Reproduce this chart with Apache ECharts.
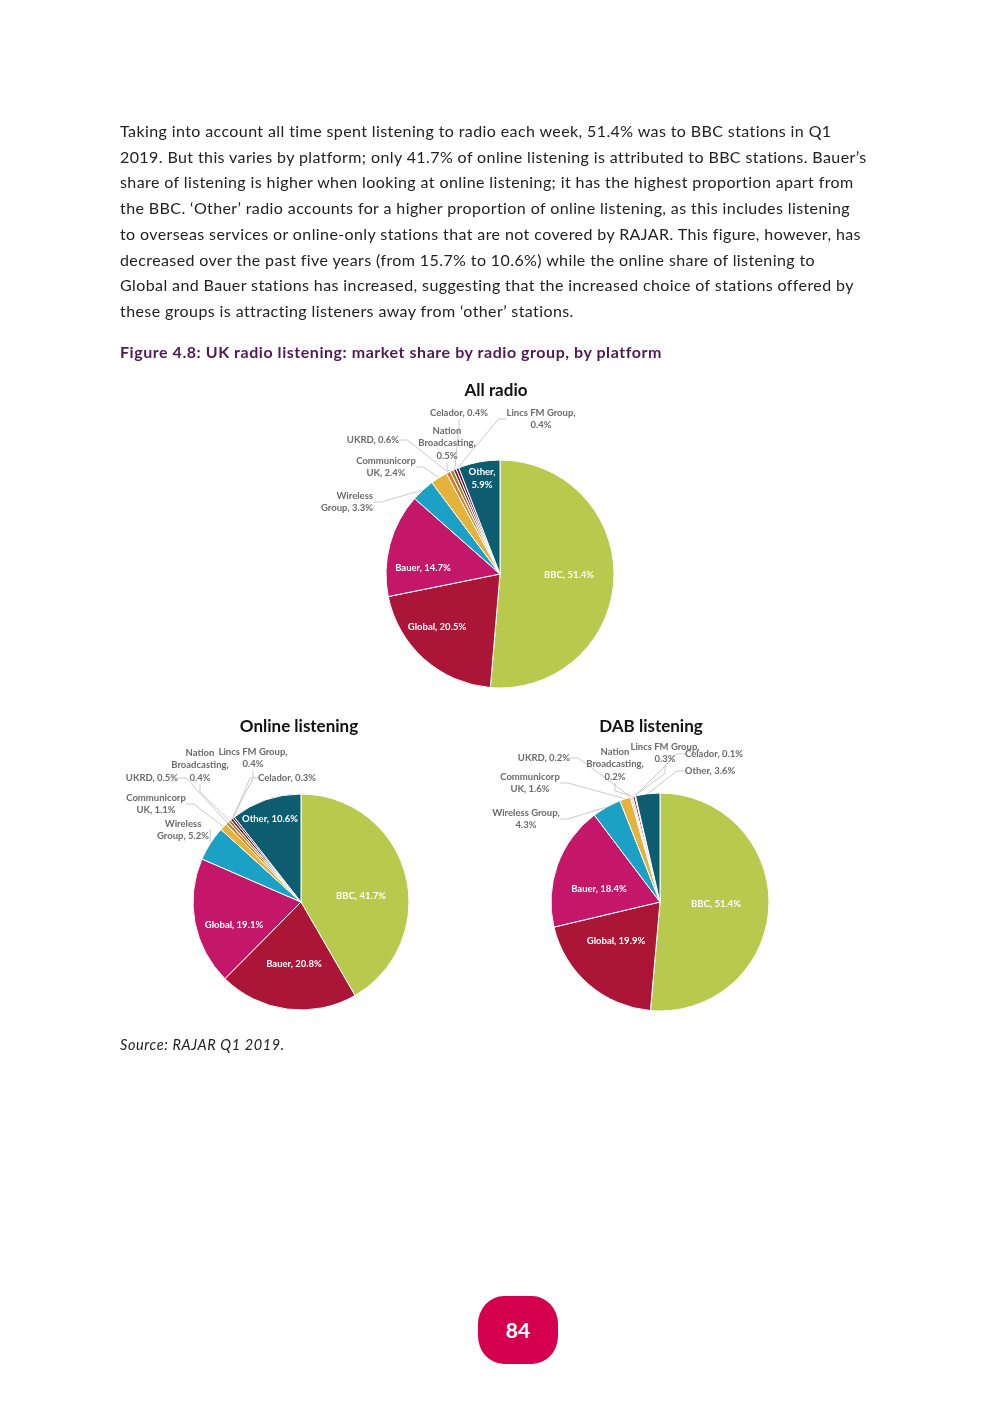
<!DOCTYPE html>
<html><head><meta charset="utf-8">
<script src="https://cdn.jsdelivr.net/npm/echarts@6/dist/echarts.min.js"></script>
<style>
html,body{margin:0;padding:0;background:#fff;}
#page{position:relative;width:992px;height:1403px;overflow:hidden;font-family:Lato,"Open Sans",sans-serif;}
#chart{position:absolute;left:0;top:0;width:992px;height:1403px;}
.para{position:absolute;left:120px;top:118px;font-size:16px;letter-spacing:0.4px;line-height:25.7px;color:#222;white-space:nowrap;z-index:2;}
.fig{position:absolute;left:120px;top:342px;font-size:16px;letter-spacing:0.55px;font-weight:bold;color:#4f1c50;z-index:2;white-space:nowrap;}
.src{position:absolute;left:120px;top:1036px;font-size:14.5px;letter-spacing:0.6px;font-style:italic;color:#222;z-index:2;}
.pg{position:absolute;left:478px;top:1296px;width:80px;height:68px;background:#d5004d;border-radius:26px/28px;color:#fff;font-weight:bold;font-size:21px;line-height:68px;text-align:center;z-index:2;}
</style></head>
<body><div id="page">
<div id="chart"></div>
<div class="para">Taking into account all time spent listening to radio each week, 51.4% was to BBC stations in Q1<br>2019. But this varies by platform; only 41.7% of online listening is attributed to BBC stations. Bauer’s<br>share of listening is higher when looking at online listening; it has the highest proportion apart from<br>the BBC. ‘Other’ radio accounts for a higher proportion of online listening, as this includes listening<br>to overseas services or online-only stations that are not covered by RAJAR. This figure, however, has<br>decreased over the past five years (from 15.7% to 10.6%) while the online share of listening to<br>Global and Bauer stations has increased, suggesting that the increased choice of stations offered by<br>these groups is attracting listeners away from ‘other’ stations.</div>
<div class="fig">Figure 4.8: UK radio listening: market share by radio group, by platform</div>
<div class="src">Source: RAJAR Q1 2019.</div>
<div class="pg">84</div>
</div>
<script>
// ---- data ----
const allRadioNames = ['BBC','Global','Bauer','Wireless Group','Communicorp UK','UKRD','Nation Broadcasting','Celador','Lincs FM Group','Other'];
const allRadioValues = [51.4,20.5,14.7,3.3,2.4,0.6,0.5,0.4,0.4,5.9];
const onlineNames = ['BBC','Bauer','Global','Wireless Group','Communicorp UK','UKRD','Nation Broadcasting','Lincs FM Group','Celador','Other'];
const onlineValues = [41.7,20.8,19.1,5.2,1.1,0.5,0.4,0.4,0.3,10.6];
const dabNames = ['BBC','Global','Bauer','Wireless Group','Communicorp UK','UKRD','Nation Broadcasting','Lincs FM Group','Celador','Other'];
const dabValues = [51.4,19.9,18.4,4.3,1.6,0.2,0.2,0.3,0.1,3.6];
const chartTitles = ['All radio','Online listening','DAB listening'];

// ---- styling ----
const sliceColors = ['#b7ca4e','#ab1638','#c4176a','#1ba0c6','#e4b33b','#e07b2b','#8c8a2c','#8a1b2c','#5b1a4c','#0d5c70'];
const font = 'Lato, "Open Sans", sans-serif';

function labelText(name, v, wrapWirelessAfterGroup, otherTwoLine){
  const val = v.toFixed(1) + '%';
  switch(name){
    case 'Communicorp UK': return 'Communicorp\nUK, ' + val;
    case 'Nation Broadcasting': return 'Nation\nBroadcasting,\n' + val;
    case 'Lincs FM Group': return 'Lincs FM Group,\n' + val;
    case 'Wireless Group': return wrapWirelessAfterGroup ? 'Wireless Group,\n' + val : 'Wireless\nGroup, ' + val;
    case 'Other': return otherTwoLine ? 'Other,\n' + val : 'Other, ' + val;
    default: return name + ', ' + val;
  }
}

// label anchor positions (page px), keyed by name
const labelPos = [
  {'BBC':[569,575],'Global':[437,627],'Bauer':[423,568],'Wireless Group':[373,502,'right'],'Communicorp UK':[386,467],
   'UKRD':[373,440],'Nation Broadcasting':[447,443],'Celador':[459,413],'Lincs FM Group':[541,419],'Other':[482,478]},
  {'BBC':[361,896],'Bauer':[294,964],'Global':[234,925],'Other':[270,819],'Wireless Group':[183,830],'Communicorp UK':[156,804],
   'UKRD':[152,778],'Nation Broadcasting':[200,765],'Lincs FM Group':[253,758],'Celador':[287,778]},
  {'BBC':[716,904],'Global':[616,941],'Bauer':[599,889],'Wireless Group':[526,819],'Communicorp UK':[530,783],
   'UKRD':[544,758],'Nation Broadcasting':[615,764],'Lincs FM Group':[665,753],'Celador':[714,754],'Other':[710,771]}
];
const insideSets = [
  ['BBC','Global','Bauer','Other'],
  ['BBC','Bauer','Global','Other'],
  ['BBC','Global','Bauer']
];
const pieGeom = [
  {center:[500,574], r:114},
  {center:[301,902], r:108},
  {center:[660,902], r:109}
];
const titlePos = [[491,377],[294,713],[646,713]];

function buildData(names, values, idx){
  return names.map((n,i)=>{
    const inside = insideSets[idx].includes(n);
    const txt = labelText(n, values[i], idx===2, idx===0);
    return {
      name:n, value:values[i],
      itemStyle:{color:sliceColors[i]},
      label: inside ? {show:true, position:'inside', color:'#fff', formatter:txt, fontSize:9.5, fontWeight:'bold', lineHeight:13}
                    : {show:true, position:'outside', color:'#6b6b6b', formatter:txt, fontSize:9.5, fontWeight:'bold', lineHeight:12.5},
      labelLine:{show:!inside}
    };
  });
}

const datasets = [[allRadioNames,allRadioValues],[onlineNames,onlineValues],[dabNames,dabValues]];
const series = datasets.map((d,idx)=>({
  type:'pie',
  center:pieGeom[idx].center,
  radius:[0,pieGeom[idx].r],
  startAngle:90,
  clockwise:true,
  animation:false,
  avoidLabelOverlap:false,
  itemStyle:{borderColor:'#fff',borderWidth:1},
  label:{fontFamily:font},
  labelLine:{length:8,length2:8,lineStyle:{color:'#bdbdbd',width:0.8}},
  emphasis:{disabled:true},
  labelLayout:function(p){
    const name = d[0][p.dataIndex];
    const pos = labelPos[idx][name];
    if(!pos) return {};
    return {x:pos[0], y:pos[1], align:pos[2]||'center', verticalAlign:'middle'};
  },
  data:buildData(d[0],d[1],idx)
}));

const chart = echarts.init(document.getElementById('chart'), null, {renderer:'canvas'});
chart.setOption({
  animation:false,
  title: chartTitles.map((t,i)=>({
    text:t, left:titlePos[i][0], top:titlePos[i][1], textAlign:'center',
    textStyle:{fontFamily:font, fontSize:17, fontWeight:'bold', color:'#111'}
  })),
  series:series
});
</script>
</body></html>
